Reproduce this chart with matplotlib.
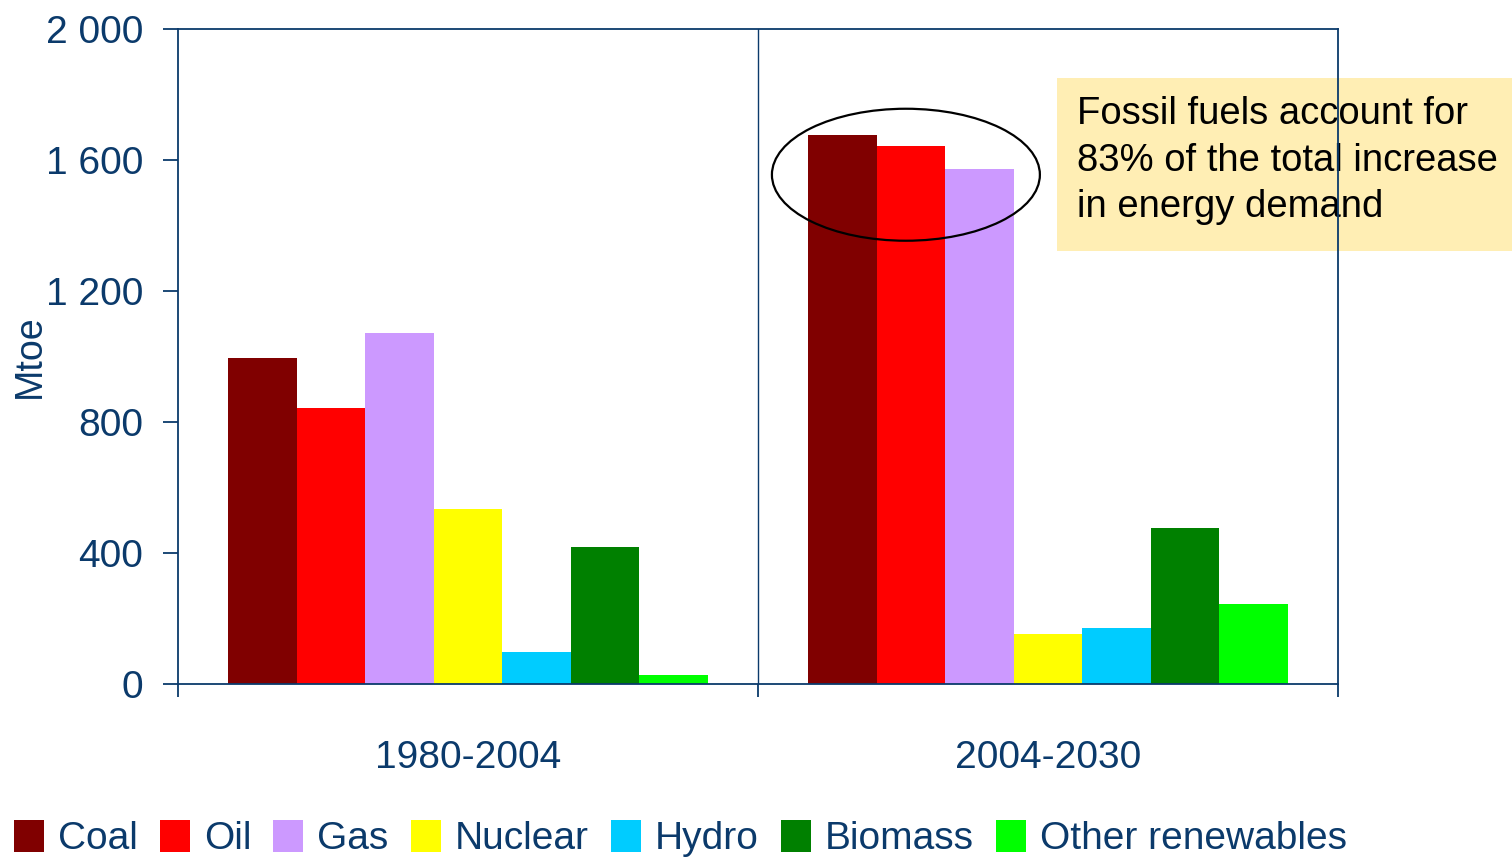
import numpy as np
import matplotlib
matplotlib.use("Agg")
import matplotlib.pyplot as plt
from matplotlib.patches import Ellipse, Patch, Rectangle

plt.rcParams['font.family'] = ['Liberation Sans', 'DejaVu Sans']

NAVY = '#0b3a6b'

periods = ['1980-2004', '2004-2030']
fuels = ['Coal', 'Oil', 'Gas', 'Nuclear', 'Hydro', 'Biomass', 'Other renewables']
colors = ['#800000', '#ff0000', '#cc99ff', '#ffff00', '#00ccff', '#008000', '#00ff00']
vals_1980_2004 = [995, 842, 1072, 533, 98, 417, 28]
vals_2004_2030 = [1675, 1642, 1574, 153, 172, 475, 245]
yticks = [0, 400, 800, 1200, 1600, 2000]
ytick_labels = ['0', '400', '800', '1 200', '1 600', '2 000']

fig = plt.figure(figsize=(15.12, 8.61), dpi=100)
ax = fig.add_axes([178/1512, 1-684/861, (1338-178)/1512, (684-29)/861])
ax.patch.set_visible(False)

barw = 0.118
x = np.arange(len(periods))
data = np.array([vals_1980_2004, vals_2004_2030])
for i, (f, c) in enumerate(zip(fuels, colors)):
    off = (i - 3) * barw
    ax.bar(x + off, data[:, i], width=barw, color=c, label=f, zorder=2)

ax.set_xlim(-0.5, 1.5)
ax.set_ylim(0, 2000)
ax.axvline(0.5, color=NAVY, lw=1.0, zorder=1)

for s in ax.spines.values():
    s.set_color(NAVY)
    s.set_linewidth(1.3)

ax.set_yticks(yticks)
ax.set_yticklabels(ytick_labels)
ax.tick_params(axis='y', colors=NAVY, labelsize=28, length=11, width=1.3, pad=14)
ax.set_xticks(x)
ax.set_xticklabels(periods)
ax.tick_params(axis='x', colors=NAVY, labelsize=28, length=0, pad=40)
ax.set_xticks([-0.5, 0.5, 1.5], minor=True)
ax.tick_params(axis='x', which='minor', length=9.5, width=1.3, color=NAVY)

ax.set_ylabel('Mtoe', color=NAVY, fontsize=27)
ax.yaxis.set_label_coords(-0.112, 0.5)

# highlight fossil fuels
ax.add_patch(Ellipse((0.755, 1555), 0.462, 403, fill=False,
                     edgecolor='black', lw=1.6, zorder=4, clip_on=False))

# note box sits under the axes frame, like the original
fig.patches.append(Rectangle((1057/1512, 1-251/861), (1512-1057)/1512, (251-78)/861,
                             transform=fig.transFigure, facecolor='#ffeeb4',
                             edgecolor='none', zorder=-2))
fig.text(1077/1512, 1-96/861, 'Fossil fuels account for\n83% of the total increase\nin energy demand',
         fontsize=27.5, color='black', linespacing=1.38, va='top', ha='left', zorder=-1)

handles = [Patch(facecolor=c, edgecolor='none') for c in colors]
fig.legend(handles, fuels, loc='lower left', bbox_to_anchor=(10/1512, 0.0), ncol=7,
           frameon=False, fontsize=28, labelcolor=NAVY, handlelength=0.77,
           handleheight=0.88, handletextpad=0.36, columnspacing=0.57, borderaxespad=0.0,
           borderpad=0.1)

fig.savefig('out.png', dpi=100)
